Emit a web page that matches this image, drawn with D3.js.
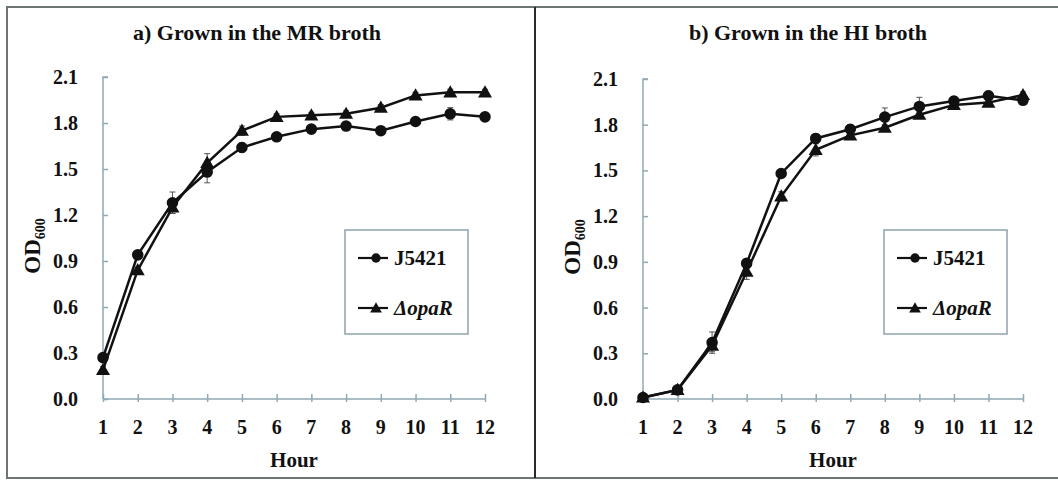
<!DOCTYPE html>
<html>
<head>
<meta charset="utf-8">
<script src="https://cdn.jsdelivr.net/npm/d3@7"></script>
<style>
  body { margin: 0; background: #fff; }
  svg text { font-family: "Liberation Serif", "Times New Roman", serif; font-weight: bold; fill: #111; }
</style>
</head>
<body>
<div id="chart"></div>
<script>
// Hours sampled
const hours = [1, 2, 3, 4, 5, 6, 7, 8, 9, 10, 11, 12];
const yTicks = [0.0, 0.3, 0.6, 0.9, 1.2, 1.5, 1.8, 2.1];
const seriesNames = ['J5421', 'ΔopaR'];

// a) MR broth
const mrJ5421 = [0.27, 0.94, 1.28, 1.48, 1.64, 1.71, 1.76, 1.78, 1.75, 1.81, 1.86, 1.84];
const mrJ5421Err = [0.02, 0.02, 0.07, 0.07, 0.03, 0.02, 0.02, 0.02, 0.02, 0.02, 0.04, 0.02];
const mrOpaR = [0.19, 0.84, 1.25, 1.54, 1.75, 1.84, 1.85, 1.86, 1.90, 1.98, 2.00, 2.00];
const mrOpaRErr = [0.02, 0.02, 0.04, 0.06, 0.03, 0.02, 0.02, 0.02, 0.02, 0.02, 0.02, 0.02];

// b) HI broth
const hiJ5421 = [0.01, 0.06, 0.37, 0.89, 1.48, 1.71, 1.77, 1.85, 1.92, 1.955, 1.99, 1.96];
const hiJ5421Err = [0.01, 0.01, 0.07, 0.03, 0.02, 0.03, 0.03, 0.06, 0.06, 0.03, 0.03, 0.02];
const hiOpaR = [0.01, 0.06, 0.35, 0.835, 1.33, 1.635, 1.73, 1.78, 1.865, 1.93, 1.945, 1.995];
const hiOpaRErr = [0.01, 0.01, 0.04, 0.05, 0.03, 0.04, 0.02, 0.02, 0.02, 0.02, 0.02, 0.02];

const width = 1058, height = 480;
const svg = d3.select('#chart').append('svg')
    .attr('width', width)
    .attr('height', height);

// frame and divider
svg.append('rect')
    .attr('x', 7).attr('y', 7)
    .attr('width', width + 10).attr('height', 471)
    .attr('fill', 'none')
    .attr('stroke', '#6d7474')
    .attr('stroke-width', 2);
svg.append('line')
    .attr('x1', 535).attr('x2', 535)
    .attr('y1', 7).attr('y2', 478)
    .attr('stroke', '#2a2a2a')
    .attr('stroke-width', 2);

const axisColor = '#8fa9b6';

function drawPanel(opts) {
    const x = d3.scaleLinear().domain([1, 12]).range([opts.left, opts.right]);
    const y = d3.scaleLinear().domain([0, 2.1]).range([opts.bottom, opts.top]);
    const g = svg.append('g');

    // title
    g.append('text')
        .attr('x', opts.titleX)
        .attr('y', 40)
        .attr('text-anchor', 'middle')
        .style('font-size', '22px')
        .text(opts.title);

    // y axis (ticks inside)
    const yAxis = g.append('g')
        .attr('transform', `translate(${opts.left},0)`)
        .call(d3.axisRight(y).tickValues(yTicks).tickSize(5).tickFormat(''));
    yAxis.select('.domain').attr('d', `M5,${opts.top}H0V${opts.bottom}`);
    yAxis.selectAll('line, path').attr('stroke', axisColor).attr('stroke-width', 1.5);

    g.selectAll('.ylab')
        .data(yTicks)
        .enter()
        .append('text')
        .attr('x', opts.left - 25)
        .attr('y', d => y(d) + 7)
        .attr('text-anchor', 'end')
        .style('font-size', '20px')
        .text(d => d3.format('.1f')(d));

    // x axis (cross ticks)
    const xAxis = g.append('g')
        .attr('transform', `translate(0,${opts.bottom})`)
        .call(d3.axisBottom(x).tickValues(hours).tickSize(5).tickFormat(''));
    xAxis.select('.domain').attr('d', `M${opts.left},0H${opts.right}`);
    xAxis.selectAll('.tick line').attr('y1', -5).attr('y2', 3);
    xAxis.selectAll('line, path').attr('stroke', axisColor).attr('stroke-width', 1.5);

    g.selectAll('.xlab')
        .data(hours)
        .enter()
        .append('text')
        .attr('x', d => x(d))
        .attr('y', opts.bottom + 35)
        .attr('text-anchor', 'middle')
        .style('font-size', '20px')
        .text(d => d);

    g.append('text')
        .attr('x', (opts.left + opts.right) / 2)
        .attr('y', opts.bottom + 68)
        .attr('text-anchor', 'middle')
        .style('font-size', '21px')
        .text('Hour');

    // y label OD600
    const yl = g.append('text')
        .attr('transform', `translate(${opts.left - 63},${(opts.top + opts.bottom) / 2 + 8}) rotate(-90)`)
        .attr('text-anchor', 'middle')
        .style('font-size', '23px');
    yl.append('tspan').text('OD');
    yl.append('tspan').attr('dy', 5).style('font-size', '14px').text('600');

    const line = d3.line().x((d, i) => x(hours[i])).y(d => y(d));

    const series = [
        { values: opts.a, err: opts.aErr, shape: 'circle' },
        { values: opts.b, err: opts.bErr, shape: 'triangle' }
    ];

    series.forEach(s => {
        // error bars
        const eb = g.append('g').attr('stroke', '#555').attr('stroke-width', 1);
        s.values.forEach((v, i) => {
            const cx = x(hours[i]);
            eb.append('line').attr('x1', cx).attr('x2', cx).attr('y1', y(v - s.err[i])).attr('y2', y(v + s.err[i]));
            eb.append('line').attr('x1', cx - 3).attr('x2', cx + 3).attr('y1', y(v - s.err[i])).attr('y2', y(v - s.err[i]));
            eb.append('line').attr('x1', cx - 3).attr('x2', cx + 3).attr('y1', y(v + s.err[i])).attr('y2', y(v + s.err[i]));
        });
    });

    series.forEach(s => {
        g.append('path')
            .datum(s.values)
            .attr('d', line)
            .attr('fill', 'none')
            .attr('stroke', '#111')
            .attr('stroke-width', 2.5);
    });

    series.forEach(s => {
        const sym = s.shape === 'circle' ? d3.symbolCircle : d3.symbolTriangle;
        const size = s.shape === 'circle' ? 105 : 85;
        g.selectAll(null)
            .data(s.values)
            .enter()
            .append('path')
            .attr('transform', (d, i) => `translate(${x(hours[i])},${y(d) + (s.shape === 'triangle' ? 1 : 0)})`)
            .attr('d', d3.symbol().type(sym).size(size))
            .attr('fill', '#111');
    });

    // legend
    const lg = g.append('g').attr('transform', `translate(${opts.legendX},230)`);
    lg.append('rect')
        .attr('width', 123).attr('height', 104)
        .attr('fill', '#fff')
        .attr('stroke', '#8fa3ad')
        .attr('stroke-width', 1.5);
    seriesNames.forEach((name, i) => {
        const ly = 28 + i * 50;
        lg.append('line')
            .attr('x1', 13).attr('x2', 43)
            .attr('y1', ly).attr('y2', ly)
            .attr('stroke', '#111').attr('stroke-width', 2.2);
        lg.append('path')
            .attr('transform', `translate(31,${ly + (i === 1 ? 1 : 0)})`)
            .attr('d', d3.symbol().type(i === 0 ? d3.symbolCircle : d3.symbolTriangle).size(i === 0 ? 70 : 60))
            .attr('fill', '#111');
        lg.append('text')
            .attr('x', 49)
            .attr('y', ly + 7)
            .style('font-size', '21px')
            .style('font-style', i === 1 ? 'italic' : 'normal')
            .text(name);
    });
}

drawPanel({
    title: 'a) Grown in the MR broth', titleX: 257,
    left: 103, right: 485, top: 77, bottom: 399,
    a: mrJ5421, aErr: mrJ5421Err, b: mrOpaR, bErr: mrOpaRErr,
    legendX: 345
});

drawPanel({
    title: 'b) Grown in the HI broth', titleX: 808,
    left: 643, right: 1023, top: 79, bottom: 399,
    a: hiJ5421, aErr: hiJ5421Err, b: hiOpaR, bErr: hiOpaRErr,
    legendX: 884
});
</script>
</body>
</html>
